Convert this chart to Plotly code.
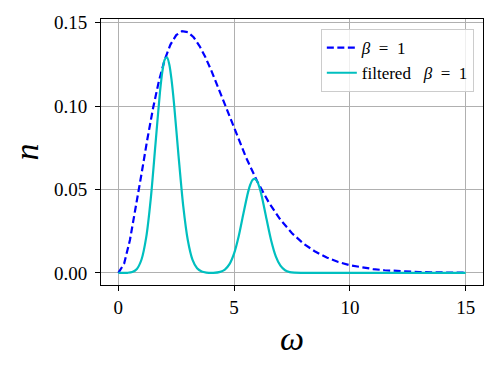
import plotly.graph_objects as go

# beta = 1 curve (dashed)
omega = [0, 0.25, 0.5, 0.75, 1.0, 1.25, 1.5, 1.75, 2.0, 2.25, 2.5, 2.75, 3.0,
         3.25, 3.5, 3.75, 4.0, 4.5, 5.0, 5.5, 6.0, 6.5, 7.0, 7.5, 8.0, 8.5,
         9.0, 9.5, 10, 10.5, 11, 11.5, 12, 12.5, 13, 13.5, 14, 14.5, 15]
n_beta = [0, 0.0056, 0.0197, 0.0385, 0.0594, 0.0800, 0.0989, 0.1150, 0.1278,
          0.1369, 0.1426, 0.1449, 0.1444, 0.1413, 0.1362, 0.1296, 0.1218,
          0.1045, 0.0865, 0.0697, 0.0548, 0.0422, 0.0319, 0.0238, 0.0175,
          0.0128, 0.0092, 0.0065, 0.0046, 0.0033, 0.0023, 0.0016, 0.0011,
          0.00074, 0.00051, 0.00035, 0.00023, 0.00016, 0.00011]

# filtered curve (solid cyan)
omega_f = [0, 0.2, 0.4, 0.6, 0.8, 1.0, 1.2, 1.4, 1.6, 1.8, 1.9, 2.0, 2.1, 2.2,
           2.3, 2.4, 2.6, 2.8, 3.0, 3.2, 3.4, 3.6, 3.8, 4.1, 4.4, 4.6, 4.8,
           5.0, 5.2, 5.4, 5.6, 5.7, 5.8, 5.9, 6.0, 6.1, 6.2, 6.4, 6.6, 6.8,
           7.0, 7.2, 7.4, 7.6, 7.9, 9, 11, 13, 15]
n_filt = [0, 0.00001, 0.00008, 0.00053, 0.00239, 0.00804, 0.02113, 0.04459,
          0.07675, 0.10883, 0.1207, 0.1278, 0.1293, 0.12499, 0.1155, 0.10216,
          0.07005, 0.04031, 0.01954, 0.00797, 0.00274, 0.00080, 0.0002,
          0.00004, 0.00065, 0.00200, 0.00525, 0.01170, 0.02213, 0.03549,
          0.04829, 0.0530, 0.05585, 0.0564, 0.0548, 0.0510, 0.04569, 0.03231,
          0.01947, 0.00995, 0.00432, 0.00160, 0.00050, 0.00013, 0.00002,
          0, 0, 0, 0]

x_ticks = [0, 5, 10, 15]
y_ticks = [0.00, 0.05, 0.10, 0.15]
y_labels = ["0.00", "0.05", "0.10", "0.15"]

serif = "'Liberation Serif', 'Times New Roman', serif"

fig = go.Figure()
fig.add_trace(go.Scatter(x=omega, y=n_beta, mode="lines",
                         name="<i>β</i>&nbsp;&nbsp;=&nbsp;&nbsp;1",
                         line=dict(color="#0000ff", width=2.2, dash="7px,3.5px")))
fig.add_trace(go.Scatter(x=omega_f, y=n_filt, mode="lines",
                         name="filtered&nbsp;&nbsp; <i>β</i>&nbsp;&nbsp;=&nbsp;&nbsp;1",
                         line=dict(color="#00bfbf", width=2.2, shape="spline",
                                   smoothing=0.8)))

axis_common = dict(showgrid=True, gridcolor="#b0b0b0", gridwidth=1,
                   showline=True, linecolor="black", linewidth=1, mirror=True,
                   ticks="outside", ticklen=5, tickcolor="black",
                   zeroline=False, automargin=False,
                   tickfont=dict(family=serif, size=19, color="black"))

fig.update_xaxes(range=[-0.75, 15.75], tickvals=x_ticks,
                 title=dict(text="<i>ω</i>", font=dict(family=serif, size=34),
                            standoff=9),
                 **axis_common)
fig.update_yaxes(range=[-0.00725, 0.15225], tickvals=y_ticks, ticktext=y_labels,
                 ticklabelstandoff=4,
                 title=dict(text="<i>n</i>", font=dict(family=serif, size=34),
                            standoff=16),
                 **axis_common)

# page has an 8px body margin, so the figure is a little smaller than the window
fig.update_layout(
    width=490, height=361,
    margin=dict(l=93, r=15, t=11, b=84),
    plot_bgcolor="white", paper_bgcolor="white",
    font=dict(family=serif, color="black"),
    legend=dict(x=0.976, y=0.962, xanchor="right", yanchor="top",
                bgcolor="rgba(255,255,255,0.8)", bordercolor="#cccccc",
                borderwidth=1, font=dict(family=serif, size=17),
                tracegroupgap=0, itemwidth=30),
    showlegend=True,
)

fig.write_html("out.html")
